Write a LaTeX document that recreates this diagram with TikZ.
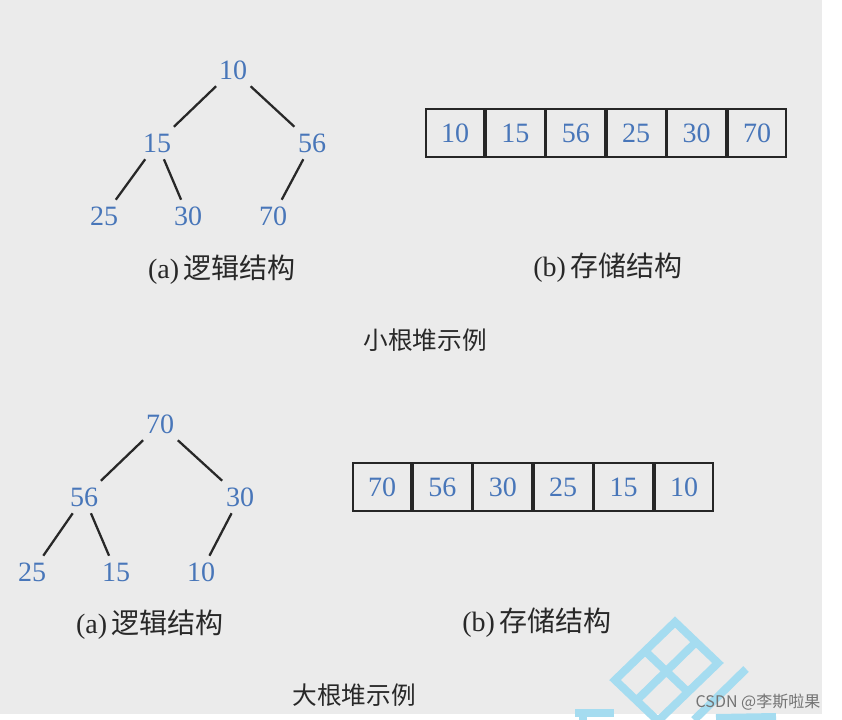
\documentclass[tikz,border=0pt]{standalone}
\usepackage{fontspec}
\setmainfont{Liberation Serif}
\newfontfamily\cjk{Noto Sans CJK SC}
\usetikzlibrary{positioning}
\definecolor{numblue}{RGB}{72,118,185}
\definecolor{bggray}{RGB}{235,235,235}
\definecolor{wmcyan}{RGB}{165,220,240}
\definecolor{inkgray}{RGB}{40,40,40}

\begin{document}
\begin{tikzpicture}[x=0.75pt,y=-0.75pt,
  num/.style={text=numblue,font=\fontsize{21}{21}\selectfont,inner sep=5pt,text height=14pt,text depth=0pt},
  link/.style={draw=inkgray,line width=1.7pt},
  cell/.style={draw=black!85,line width=1.3pt,minimum width=44pt,minimum height=36.2pt,inner sep=0pt,
    text=numblue,font=\fontsize{21}{21}\selectfont},
  sub/.style={text=inkgray,font=\fontsize{21}{21}\selectfont},
  heading/.style={text=inkgray,font=\cjk\fontsize{18.5}{18.5}\selectfont}]
  % background
  \useasboundingbox (0,0) rectangle (842,720);
  \fill[white] (0,0) rectangle (842,720);
  \fill[bggray] (0,0) rectangle (822,714);
  % watermark
  \begin{scope}
    \clip (0,0) rectangle (842,720);
    \draw[wmcyan,line width=6pt,line join=miter] (675,622) -- (718,663) -- (658,721) -- (615,680) -- cycle;
    \draw[wmcyan,line width=6pt] (645,651) -- (688,692);
    \draw[wmcyan,line width=6pt] (696,642) -- (637,700);
    \draw[wmcyan,line width=6pt] (746,669) -- (694,720);
    \draw[wmcyan,line width=6pt] (716,718) -- (776,717);
    \draw[wmcyan,line width=6pt] (575,713) -- (614,713);
    \draw[wmcyan,line width=6pt] (583,713) -- (583,722);
  \end{scope}

  % small root heap: tree
  \node[num] (s10) at (233,70) {10};
  \node[num] (s15) at (157,143) {15};
  \node[num] (s56) at (312,143) {56};
  \node[num] (s25) at (104,216) {25};
  \node[num] (s30) at (188,216) {30};
  \node[num] (s70) at (273,216) {70};
  \draw[link] (s10) -- (s15);
  \draw[link] (s10) -- (s56);
  \draw[link] (s15) -- (s25);
  \draw[link] (s15) -- (s30);
  \draw[link] (s56) -- (s70);
  \node[sub] (sa) at (222,270) {(a)\,\cjk 逻辑结构};
  % small root heap: array
  \node[cell] (sc1) at (455,133) {10};
  \node[cell,right=0pt of sc1] (sc2) {15};
  \node[cell,right=0pt of sc2] (sc3) {56};
  \node[cell,right=0pt of sc3] (sc4) {25};
  \node[cell,right=0pt of sc4] (sc5) {30};
  \node[cell,right=0pt of sc5] (sc6) {70};
  \node[sub] (sb) at (608,268) {(b)\,\cjk 存储结构};
  \node[heading] (stitle) at (425,340) {小根堆示例};

  % big root heap: tree
  \node[num] (b70) at (160,424) {70};
  \node[num] (b56) at (84,497) {56};
  \node[num] (b30) at (240,497) {30};
  \node[num] (b25) at (32,572) {25};
  \node[num] (b15) at (116,572) {15};
  \node[num] (b10) at (201,572) {10};
  \draw[link] (b70) -- (b56);
  \draw[link] (b70) -- (b30);
  \draw[link] (b56) -- (b25);
  \draw[link] (b56) -- (b15);
  \draw[link] (b30) -- (b10);
  \node[sub] (ba) at (150,625) {(a)\,\cjk 逻辑结构};
  % big root heap: array
  \node[cell] (bc1) at (382,487) {70};
  \node[cell,right=0pt of bc1] (bc2) {56};
  \node[cell,right=0pt of bc2] (bc3) {30};
  \node[cell,right=0pt of bc3] (bc4) {25};
  \node[cell,right=0pt of bc4] (bc5) {15};
  \node[cell,right=0pt of bc5] (bc6) {10};
  \node[sub] (bb) at (537,623) {(b)\,\cjk 存储结构};
  \node[heading] (btitle) at (354,695) {大根堆示例};

  \node[text=black!55,font=\cjk\fontsize{12}{12}\selectfont] (mark) at (758,702) {CSDN @李斯啦果};
\end{tikzpicture}
\end{document}
